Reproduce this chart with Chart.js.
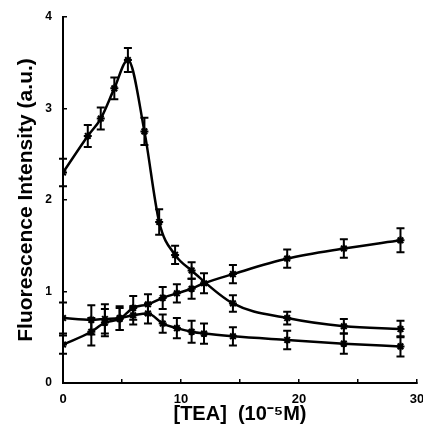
<!DOCTYPE html>
<html lang="en">
<head>
  <meta charset="UTF-8">
  <title>chart</title>
  <style>
    body { margin: 0; background: #fff; }
    #wrap { width: 423px; height: 426px; }
  </style>
</head>
<body>
  <div id="wrap">
    <canvas id="myChart" width="423" height="426"></canvas>
  </div>

  <script src="https://cdn.jsdelivr.net/npm/chart.js"></script>
  <script>
    // peak curve
    const teaA = [0, 2.1, 3.2, 4.35, 5.5, 6.9, 8.15, 9.5, 10.9, 14.4, 19.0, 23.8, 28.6]
    const fluoA = [2.3, 2.7, 2.89, 3.22, 3.53, 2.75, 1.76, 1.4, 1.23, 0.87, 0.71, 0.62, 0.59]
    const errA = [0.15, 0.12, 0.12, 0.12, 0.13, 0.15, 0.14, 0.1, 0.09, 0.09, 0.07, 0.08, 0.09]

    // rising curve
    const teaB = [0, 2.4, 3.55, 4.8, 5.95, 7.2, 8.45, 9.65, 10.9, 11.95, 14.4, 19.0, 23.8, 28.6]
    const fluoB = [0.42, 0.56, 0.66, 0.7, 0.82, 0.86, 0.93, 0.98, 1.03, 1.09, 1.19, 1.36, 1.47, 1.56]
    const errB = [0.1, 0.15, 0.15, 0.12, 0.13, 0.11, 0.12, 0.1, 0.11, 0.11, 0.1, 0.1, 0.1, 0.13]

    // flat then falling curve
    const teaC = [0, 2.4, 3.55, 4.8, 5.95, 7.2, 8.45, 9.65, 10.9, 11.95, 14.4, 19.0, 23.8, 28.6]
    const fluoC = [0.71, 0.69, 0.7, 0.71, 0.74, 0.76, 0.65, 0.6, 0.56, 0.54, 0.51, 0.47, 0.43, 0.4]
    const errC = [0.17, 0.16, 0.16, 0.13, 0.1, 0.11, 0.1, 0.11, 0.12, 0.11, 0.1, 0.1, 0.11, 0.11]

    const xTicks = [0, 10, 20, 30]

    const toPts = (xs, ys) => xs.map((x, i) => ({ x: x, y: ys[i] }))

    const mkSet = (xs, ys, errs) => ({
      data: toPts(xs, ys),
      errors: errs,
      borderColor: '#000',
      backgroundColor: '#000',
      borderWidth: 2.5,
      pointStyle: 'star',
      pointRadius: 4,
      pointBorderWidth: 2,
      cubicInterpolationMode: 'monotone',
      fill: false
    })

    const errorBars = {
      id: 'errorBars',
      afterDatasetsDraw(chart) {
        const ctx = chart.ctx
        const ys = chart.scales.y
        ctx.save()
        ctx.strokeStyle = '#000'
        ctx.lineWidth = 2
        chart.data.datasets.forEach((ds, di) => {
          const meta = chart.getDatasetMeta(di)
          meta.data.forEach((pt, i) => {
            const v = ds.data[i].y
            const e = ds.errors[i]
            const top = ys.getPixelForValue(v + e)
            const bot = ys.getPixelForValue(v - e)
            ctx.beginPath()
            ctx.moveTo(pt.x, top)
            ctx.lineTo(pt.x, bot)
            ctx.moveTo(pt.x - 4, top)
            ctx.lineTo(pt.x + 4, top)
            ctx.moveTo(pt.x - 4, bot)
            ctx.lineTo(pt.x + 4, bot)
            ctx.stroke()
          })
        })
        ctx.restore()
      }
    }

    const ctx = document.getElementById('myChart')
    new Chart(ctx, {
      type: 'line',
      data: {
        datasets: [
          mkSet(teaA, fluoA, errA),
          mkSet(teaB, fluoB, errB),
          mkSet(teaC, fluoC, errC)
        ]
      },
      options: {
        responsive: false,
        animation: false,
        layout: { padding: { top: 17, right: 5, left: 0, bottom: 0 } },
        plugins: {
          legend: { display: false },
          tooltip: { enabled: false }
        },
        scales: {
          x: {
            type: 'linear',
            min: 0,
            max: 30,
            afterFit: (s) => { s.height = 43; s.paddingLeft = 0; s.paddingRight = 0 },
            afterBuildTicks: (s) => { s.ticks = [0, 5, 10, 15, 20, 25, 30].map(v => ({ value: v })) },
            ticks: {
              color: '#000',
              font: { family: 'Liberation Sans', weight: 'bold', size: 13 },
              padding: 13,
              maxRotation: 0,
              autoSkip: false,
              callback: (v) => xTicks.includes(v) ? String(v) : ''
            },
            grid: { display: true, drawOnChartArea: false, tickLength: -4, color: '#000', lineWidth: 1.5 },
            border: { color: '#000', width: 2 },
            title: {
              display: true,
              text: '[TEA]  (10\u207B\u2075M)',
              color: '#000',
              font: { family: 'Liberation Sans', size: 20, weight: 'bold' },
              padding: { top: -6, bottom: 0 }
            }
          },
          y: {
            min: 0,
            max: 4,
            afterFit: (s) => { s.width = 63; s.paddingTop = 0; s.paddingBottom = 0 },
            ticks: {
              stepSize: 1,
              color: '#000',
              font: { family: 'Liberation Sans', weight: 'bold', size: 12 },
              padding: 15
            },
            grid: { display: true, drawOnChartArea: false, tickLength: -4, color: '#000', lineWidth: 1.5 },
            border: { color: '#000', width: 2 },
            title: {
              display: true,
              text: 'Fluorescence Intensity (a.u.)',
              color: '#000',
              font: { family: 'Liberation Sans', size: 21, weight: 'bold' },
              padding: { top: 14, bottom: 0 }
            }
          }
        }
      },
      plugins: [errorBars]
    })
  </script>
</body>
</html>
